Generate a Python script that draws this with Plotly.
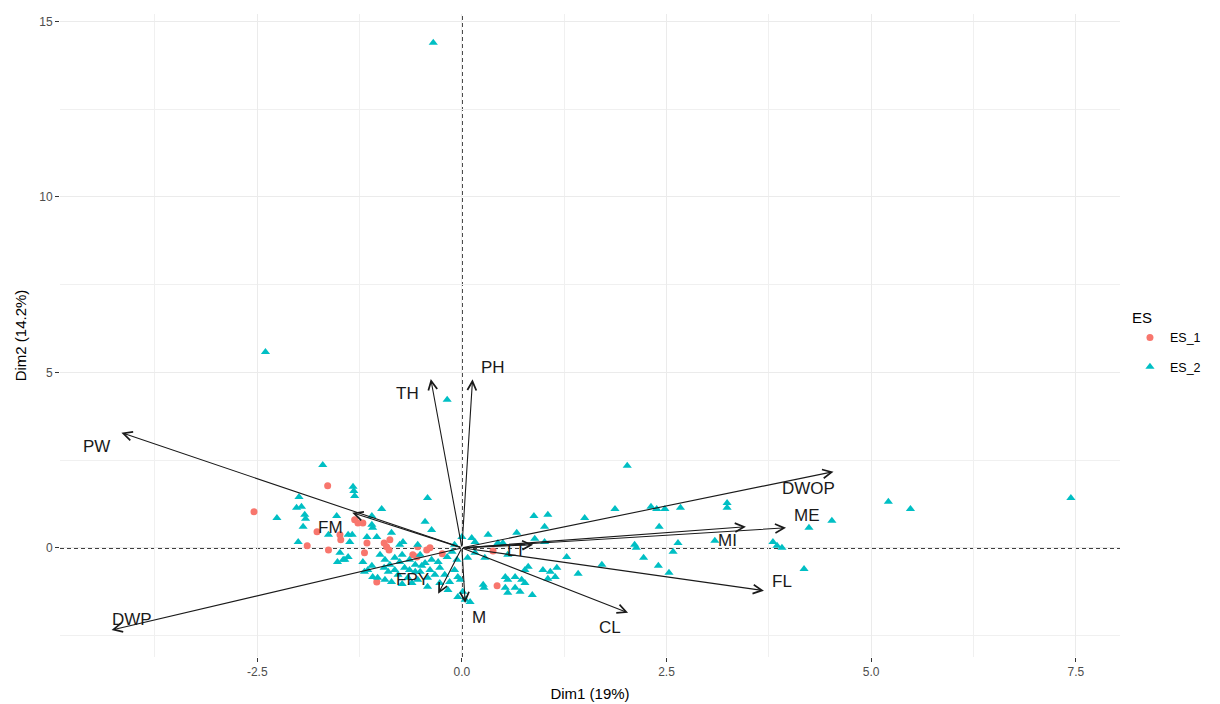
import plotly.graph_objects as go

# ---------------- data ----------------
es1_x = [-1.64, -2.54, -1.31, -1.27, -1.21, -1.77, -1.49, -1.48, -1.89, -1.63, -1.19, -0.95,
         -0.92, -0.88, -0.89, -1.04, -0.54, -0.43, -0.39, -0.55, -0.60, -0.24, 0.38, 0.43, -1.16]
es1_y = [1.77, 1.03, 0.80, 0.71, 0.71, 0.46, 0.37, 0.23, 0.06, -0.06, -0.14, 0.14,
         0.03, 0.23, -0.06, -0.97, 0.03, -0.06, 0.00, -0.26, -0.20, -0.17, -0.09, -1.08, 0.14]

es2_x = [-0.35, -2.40, -0.18, 5.21, 5.48, 7.44, 4.52, 4.24, 4.18, 3.80, 3.85, 3.91,
         3.24, 3.24, 3.09, 2.02, 1.87, 2.31, 2.38, 2.48, 2.67, 2.41, 2.11, 2.13,
         2.64, 2.58, 2.22, 1.71, 2.40, 2.53, 1.42, 1.28, 1.50, 0.88, 1.05, 1.01,
         0.32, 0.67, 0.12, 0.16, 0.00, 0.44, 0.50, 1.01, 0.89, 0.16, 0.28, 0.07,
         0.56, 0.81, 0.77, 0.99, 1.08, 1.16, 1.14, 1.05, 0.53, 0.56, 0.65, 0.73,
         0.77, -0.05, -0.02, 0.26, 0.27, 0.53, 0.65, 0.71, 0.56, 0.86, -0.05, 0.04,
         0.10, 0.01,
         -1.70, -1.33, -1.32, -1.31, -1.99, -2.02, -1.96, -2.26, -1.92, -1.91, -1.94, -1.53,
         -1.63, -1.39, -1.34, -1.37, -2.00, -1.49, -1.52, -1.43, -1.21, -1.16, -1.15, -0.42,
         -0.98, -1.10, -0.45, -1.10, -1.09, -0.37, -0.86, -1.04, -0.72, -0.76, -0.54, -0.18,
         -0.12, -0.09,
         -1.00, -0.94, -0.88, -0.82, -0.76, -0.70, -0.64, -0.57, -0.51, -0.45, -0.39, -0.33,
         -0.90, -0.78, -0.66, -0.54, -0.42, -1.10, -1.19, -1.03, -0.86, -0.73, -0.61, -0.27,
         -0.21, -0.15, -1.09, -0.82, -0.57, -0.49, -0.64, -0.37, -0.29, -0.95, -0.73, -0.51,
         -0.94, -0.42, -0.27, -0.09, -0.06, -0.17, -1.39, -1.45]
es2_y = [14.39, 5.58, 4.22, 1.31, 1.11, 1.42, 0.77, 0.57, -0.60, 0.17, 0.06, 0.00,
         1.28, 1.14, 0.20, 2.34, 1.11, 1.17, 1.11, 1.11, 1.14, 0.60, 0.09, 0.00,
         0.14, -0.11, -0.28, -0.48, -0.51, -0.71, -0.74, -0.26, 0.85, 0.91, 0.94, 0.60,
         0.37, 0.43, 0.28, 0.17, 0.31, 0.14, 0.14, 0.17, 0.26, -0.14, -0.28, -0.28,
         -0.20, -0.54, -0.63, -0.63, -0.68, -0.57, -0.83, -0.88, -0.83, -0.91, -0.83, -0.91,
         -1.00, -0.83, -0.91, -1.05, -1.14, -1.14, -1.14, -1.25, -1.28, -1.34, -1.40, -1.48,
         -1.54, -1.25,
         2.36, 1.74, 1.62, 1.48, 1.45, 1.14, 1.17, 0.85, 0.94, 0.83, 0.60, 0.91,
         0.37, 0.37, 0.37, 0.17, 0.17, -0.14, -0.40, -0.34, -0.40, 0.31, -0.63, 1.42,
         1.11, 0.91, 0.74, 0.66, 0.57, 0.51, 0.43, 0.31, 0.17, 0.09, 0.09, -0.26,
         -0.11, 0.09,
         -0.20, -0.34, -0.48, -0.28, -0.40, -0.57, -0.34, -0.48, -0.68, -0.43, -0.63, -0.77,
         -0.68, -0.77, -0.85, -0.91, -0.85, -0.51, -0.68, -0.85, -0.97, -1.03, -1.00, -0.57,
         -0.77, -0.97, -0.83, -0.63, -0.68, -0.51, -0.63, -0.34, -0.40, -0.57, -0.20, -0.20,
         -0.91, -1.11, -1.00, -0.63, -0.34, -1.20, -0.26, -0.34]

var_names = ["PW", "TH", "PH", "DWOP", "ME", "MI", "FL", "CL", "M", "FPY", "FM", "DWP", "LT"]
var_x = [-4.16, -0.38, 0.13, 4.54, 3.96, 3.47, 3.69, 2.03, 0.04, -0.29, -1.34, -4.28, 0.87]
var_y = [3.28, 4.81, 4.80, 2.17, 0.57, 0.60, -1.22, -1.85, -1.57, -1.31, 1.00, -2.34, 0.09]

x_ticks = [-2.5, 0.0, 2.5, 5.0, 7.5]
x_ticklabels = ["-2.5", "0.0", "2.5", "5.0", "7.5"]
y_ticks = [0, 5, 10, 15]
y_ticklabels = ["0", "5", "10", "15"]

# label offsets in pixels (style)
label_shift = {
    "PW": (-25, -14), "TH": (-23, -14), "PH": (20, 12), "DWOP": (-25, -17),
    "ME": (21, 12), "MI": (-18, -14), "FL": (18, 9), "CL": (-18, -15),
    "M": (14, -15), "FPY": (-26, 14), "FM": (-22, -15), "DWP": (20, 10),
    "LT": (-17, -6),
}

FONT = "Liberation Sans, Arial, sans-serif"

fig = go.Figure()
fig.add_trace(go.Scatter(
    x=es1_x, y=es1_y, mode="markers", name="ES_1", legendgroup="a",
    marker=dict(symbol="circle", size=7, color="#F8766D"),
))
fig.add_trace(go.Scatter(
    x=es2_x, y=es2_y, mode="markers", name="ES_2", legendgroup="b",
    marker=dict(symbol="triangle-up", size=8, color="#00BFC4"),
))

annotations = []
for n, vx, vy in zip(var_names, var_x, var_y):
    annotations.append(dict(
        x=vx, y=vy, ax=0, ay=0, xref="x", yref="y", axref="x", ayref="y",
        text="", showarrow=True, arrowhead=5, arrowsize=1.6, arrowwidth=1.1,
        arrowcolor="#1a1a1a", standoff=0, startstandoff=0,
    ))
for n, vx, vy in zip(var_names, var_x, var_y):
    dx, dy = label_shift[n]
    annotations.append(dict(
        x=vx, y=vy, xref="x", yref="y", text=n, showarrow=False,
        xshift=dx, yshift=dy, font=dict(family=FONT, size=17, color="#1a1a1a"),
    ))

shapes = [
    dict(type="line", xref="paper", yref="y", x0=0, x1=1, y0=0, y1=0,
         line=dict(color="#000000", width=1.6, dash="4px,3px"), layer="below"),
    dict(type="line", xref="x", yref="paper", x0=0, x1=0, y0=0, y1=1,
         line=dict(color="#000000", width=1.6, dash="4px,3px"), layer="below"),
]

axis_common = dict(
    showline=False, zeroline=False, ticks="outside", ticklen=4, tickwidth=1,
    tickcolor="#333333", showgrid=True, gridcolor="#EBEBEB", gridwidth=1.1,
    tickfont=dict(family=FONT, size=12, color="#4D4D4D"), automargin=False,
)

fig.update_layout(
    template="none",
    width=1220, height=704,
    margin=dict(l=60, r=100, t=14, b=47, autoexpand=False),
    paper_bgcolor="white", plot_bgcolor="white",
    font=dict(family=FONT),
    xaxis=dict(range=[-4.91, 8.04], tickvals=x_ticks, ticktext=x_ticklabels,
               title=dict(text="Dim1 (19%)", font=dict(family=FONT, size=15, color="#000000"), standoff=10),
               minor=dict(dtick=1.25, tick0=0, showgrid=True, gridcolor="#F0F0F0", gridwidth=0.8, ticks=""),
               **axis_common),
    yaxis=dict(range=[-3.11, 15.21], tickvals=y_ticks, ticktext=y_ticklabels,
               title=dict(text="Dim2 (14.2%)", font=dict(family=FONT, size=15, color="#000000"), standoff=8),
               minor=dict(dtick=2.5, tick0=0, showgrid=True, gridcolor="#F0F0F0", gridwidth=0.8, ticks=""),
               **axis_common),
    legend=dict(
        title=dict(text="ES", font=dict(family=FONT, size=15, color="#000000")),
        font=dict(family=FONT, size=12.5, color="#000000"),
        x=1.0094, xanchor="left", y=0.55, yanchor="top",
        tracegroupgap=10, bgcolor="rgba(0,0,0,0)",
    ),
    showlegend=True,
    annotations=annotations,
    shapes=shapes,
)

fig.write_html("out.html")
